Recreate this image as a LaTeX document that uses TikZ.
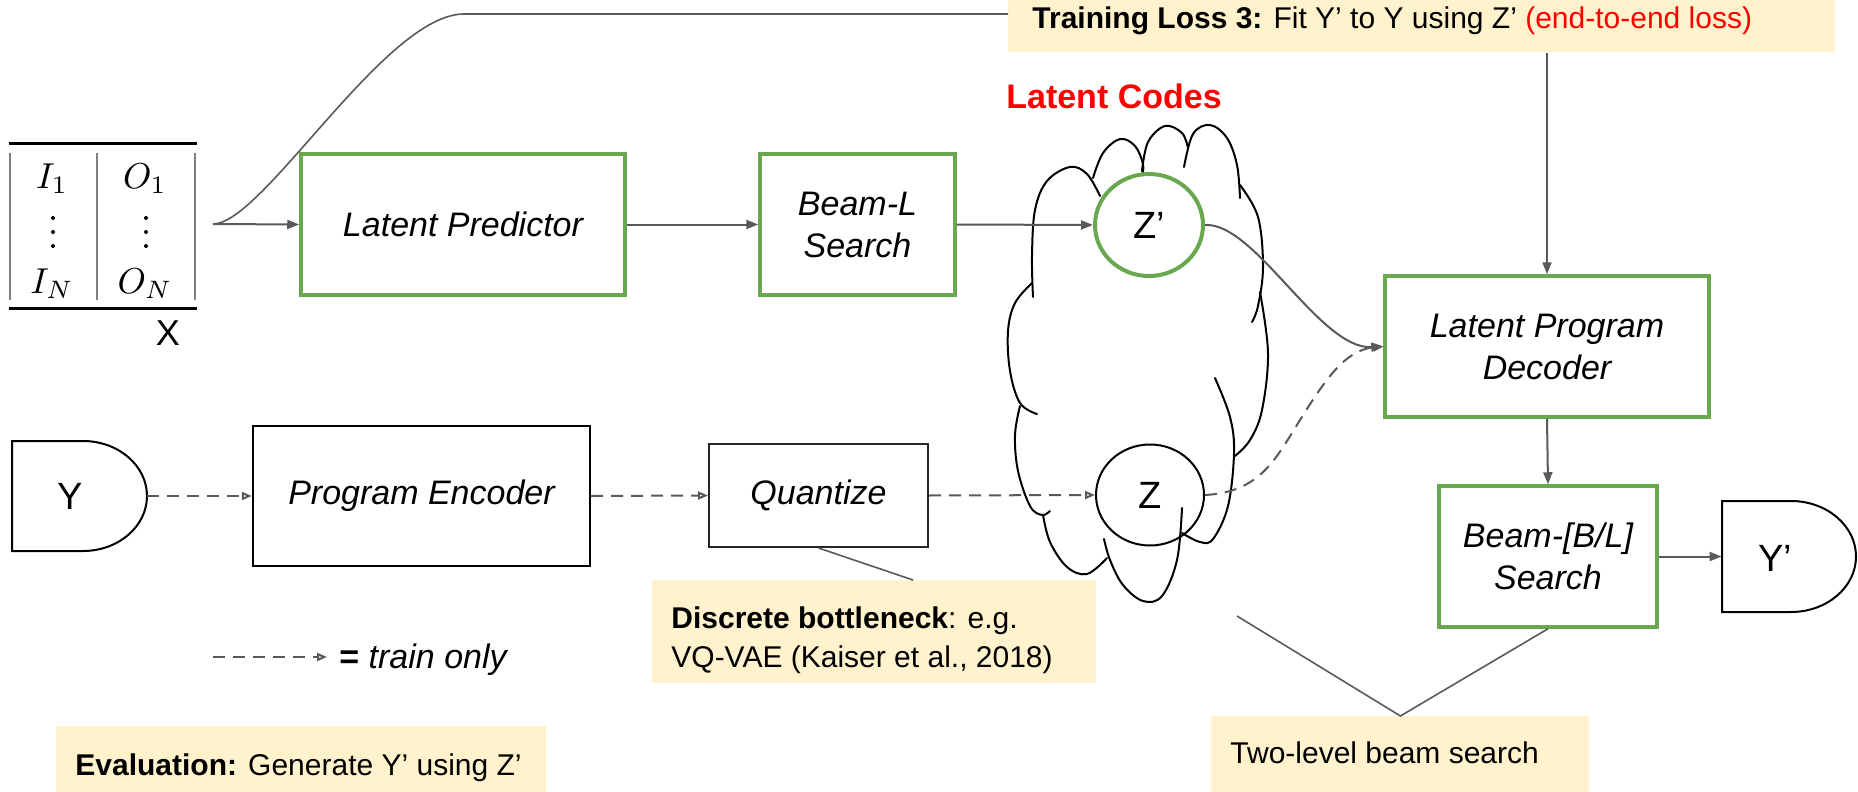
\documentclass[tikz,border=0pt]{standalone}
\usepackage{graphicx}
\usepackage{fontspec}
\setmainfont{Liberation Sans}
\usetikzlibrary{arrows.meta,shapes.geometric}

\definecolor{boxgreen}{HTML}{6AA84F}
\definecolor{linkgray}{HTML}{595959}
\definecolor{notefill}{HTML}{FFF2CC}
\definecolor{rulegray}{HTML}{808080}
\definecolor{hotred}{HTML}{FF0000}

\newcommand{\lblfont}{\fontsize{17}{21}\selectfont\itshape}
\newcommand{\notefont}{\fontsize{15}{18}\selectfont}
\newcommand{\varfont}{\fontsize{19}{22}\selectfont}
\newcommand{\bigmath}[1]{\scalebox{1.8}{$#1$}}

\begin{document}
\begin{tikzpicture}[x=0.5pt,y=-0.5pt,
  gbox/.style={draw=boxgreen, line width=1.75pt, rectangle, inner sep=0pt,
               align=center, font=\lblfont},
  kbox/.style={draw=black, line width=1pt, rectangle, inner sep=0pt,
               align=center, font=\lblfont},
  arr/.style={draw=linkgray, line width=1pt, -{Triangle[length=6pt,width=4.5pt]}},
  darr/.style={draw=linkgray, line width=1pt, dash pattern=on 6pt off 4pt,
               -{Triangle[open,length=5pt,width=4pt]}},
  plain/.style={draw=linkgray, line width=0.8pt},
  cloudline/.style={draw=black, line width=1pt, line cap=round},
  notebox/.style={fill=notefill, draw=none, inner sep=0pt, anchor=north west},
  notetext/.style={inner sep=0pt, anchor=base west, font=\notefont},
  mathtext/.style={inner sep=0pt, anchor=base},
  vdot/.style={fill=black},
]
\useasboundingbox (0,0) rectangle (1858,792);

% ---------- input table X ----------
\draw[line width=1.5pt] (9,144) -- (197,144);
\draw[line width=1.5pt] (9,308) -- (197,308);
\draw[rulegray, line width=0.8pt] (10,153) -- (10,300);
\draw[rulegray, line width=0.8pt] (97,153) -- (97,300);
\draw[rulegray, line width=0.8pt] (195,153) -- (195,300);
\node[mathtext] (i1) at (52,188) {\bigmath{I_1}};
\node[mathtext] (o1) at (145,188) {\bigmath{O_1}};
\foreach \dy in {218,232,246} {
  \fill[vdot] (53,\dy) circle (1pt);
  \fill[vdot] (146,\dy) circle (1pt);
}
\node[mathtext] (iN) at (52,293) {\bigmath{I_N}};
\node[mathtext] (oN) at (145,293) {\bigmath{O_N}};
\node[inner sep=0pt, font=\fontsize{18}{20}\selectfont] (xlab) at (168,333) {X};
\coordinate (xs) at (213,224);

% ---------- top row ----------
\node[gbox, minimum width=162pt, minimum height=70.5pt] (lp) at (463,224.5) {Latent Predictor};
\node[gbox, minimum width=97.5pt, minimum height=70.5pt] (bl) at (857.5,224.5) {Beam-L\\Search};

% ---------- latent code cloud ----------
\draw[cloudline] plot[smooth, tension=0.6] coordinates {(1100,196) (1087,174) (1070,167) (1047,181) (1035,210) (1032,256) (1033,297)};
\draw[cloudline] plot[smooth, tension=0.6] coordinates {(1032,283) (1015,303) (1008,331) (1010,371) (1020,403) (1037,414)};
\draw[cloudline] plot[smooth, tension=0.6] coordinates {(1020,406) (1015,435) (1018,471) (1030,506) (1042,515) (1050,511)};
\draw[cloudline] plot[smooth, tension=0.6] coordinates {(1043,515) (1050,542) (1067,567) (1087,574) (1107,558)};
\draw[cloudline] plot[smooth, tension=0.6] coordinates {(1104,539) (1110,560) (1123,585) (1143,601) (1162,596) (1177,560) (1182,508)};
\draw[cloudline] plot[smooth, tension=0.6] coordinates {(1182,533) (1200,542) (1213,539) (1228,506) (1234,453) (1230,417) (1215,378)};
\draw[cloudline] plot[smooth, tension=0.6] coordinates {(1260,292) (1268,353) (1262,410) (1250,440) (1235,456)};
\draw[cloudline] plot[smooth, tension=0.6] coordinates {(1240,185) (1258,217) (1263,267) (1258,306) (1252,322)};
\draw[cloudline] plot[smooth, tension=0.6] coordinates {(1184,167) (1193,134) (1210,125) (1227,138) (1237,165) (1240,198)};
\draw[cloudline] plot[smooth, tension=0.6] coordinates {(1142,171) (1148,142) (1165,126) (1182,133) (1188,148)};
\draw[cloudline] plot[smooth, tension=0.6] coordinates {(1093,178) (1103,153) (1120,139) (1135,146) (1143,164) (1142,176)};
\node[inner sep=0pt, text=hotred, font=\fontsize{17}{20}\selectfont\bfseries] (lc) at (1114,96) {Latent Codes};

\node[ellipse, draw=boxgreen, line width=2pt, fill=white, minimum width=54pt,
      minimum height=51pt, inner sep=0pt, font=\varfont] (zp) at (1149,225) {Z’};
\node[ellipse, draw=black, line width=1pt, minimum width=54pt,
      minimum height=50.5pt, inner sep=0pt, font=\varfont] (z) at (1150,495) {Z};

% ---------- decoder side ----------
\node[gbox, minimum width=162pt, minimum height=70.5pt] (dec) at (1547,346.5) {Latent Program\\Decoder};
\node[gbox, minimum width=109pt, minimum height=70.5pt] (bbl) at (1548,556.5) {Beam-[B/L]\\Search};

\node[inner sep=0pt, minimum width=67pt, minimum height=55.5pt] (yp) at (1789,556.5) {};
\draw[line width=1pt] (1722,501) -- (1791,501)
  .. controls (1826.9,501) and (1856,525.9) .. (1856,556.5)
  .. controls (1856,587.1) and (1826.9,612) .. (1791,612) -- (1722,612) -- cycle;
\node[inner sep=0pt, font=\varfont] (yplab) at (1775,558) {Y’};

% ---------- bottom row ----------
\node[inner sep=0pt, minimum width=67.5pt, minimum height=55pt] (y) at (79.5,496) {};
\draw[line width=1pt] (12,441) -- (83,441)
  .. controls (118.3,441) and (147,465.6) .. (147,496)
  .. controls (147,526.4) and (118.3,551) .. (83,551) -- (12,551) -- cycle;
\node[inner sep=0pt, font=\varfont] (ylab) at (70,496) {Y};

\node[kbox, line width=1.2pt, minimum width=168.5pt, minimum height=70pt] (pe) at (421.5,496) {Program Encoder};
\node[kbox, draw=black!85, minimum width=109.5pt, minimum height=51.5pt] (qz) at (818.5,495.5) {Quantize};

% ---------- notes ----------
\node[notebox, minimum width=413.5pt, minimum height=26pt] (tl) at (1008,0) {};
\node[notetext] (tltext) at (1032,29) {\textbf{Training Loss 3:} Fit Y’ to Y using Z’ \textcolor{hotred}{(end-to-end loss)}};

\node[notebox, minimum width=222pt, minimum height=51.5pt] (db) at (652,580) {};
\node[notetext] (dbtext1) at (671,628) {\textbf{Discrete bottleneck}: e.g.};
\node[notetext] (dbtext2) at (671,667) {VQ-VAE (Kaiser et al., 2018)};
\coordinate (dbt) at (913,580);

\node[notebox, minimum width=245pt, minimum height=33pt] (ev) at (56,726) {};
\node[notetext] (evtext) at (75,775) {\textbf{Evaluation:} Generate Y’ using Z’};

\node[notebox, minimum width=189pt, minimum height=38pt] (tw) at (1211,716) {};
\node[notetext] (twtext) at (1230,763) {Two-level beam search};
\coordinate (vl) at (1237,616);

% legend
\coordinate (lg1) at (213,657);
\coordinate (lg2) at (327,657);
\draw[darr] (lg1) -- (lg2);
\node[inner sep=0pt, anchor=base west, font=\fontsize{17}{20}\selectfont] (lgt) at (339,668) {\textbf{=} \textit{train only}};

% ---------- connectors ----------
\coordinate (tk) at (464,14);
\draw[plain] (xs) .. controls (263,224) and (385,14) .. (tk) -- (tk -| tl.west);
\draw[arr] (xs) -- (lp.west);
\draw[arr] (lp.east) -- (bl.west);
\draw[arr] (bl.east) -- (zp.west);
\draw[arr] (zp.east) .. controls (1255,222) and (1320,350) .. (dec.west);
\draw[darr] (z.east) .. controls (1260,492) and (1275,460) .. (1300,420)
  .. controls (1325,380) and (1345,350) .. (dec.west);
\draw[arr] (tl.south -| dec.north) -- (dec.north);
\draw[arr] (dec.south) -- (bbl.north);
\draw[arr] (bbl.east) -- (yp.west);

\draw[darr] (y.east) -- (pe.west);
\draw[darr] (pe.east) -- (qz.west);
\draw[darr] (qz.east) -- (z.west);

\draw[plain] (qz.south) -- (dbt);
\draw[plain] (vl) -- (tw.north) -- (bbl.south);
\end{tikzpicture}
\end{document}
